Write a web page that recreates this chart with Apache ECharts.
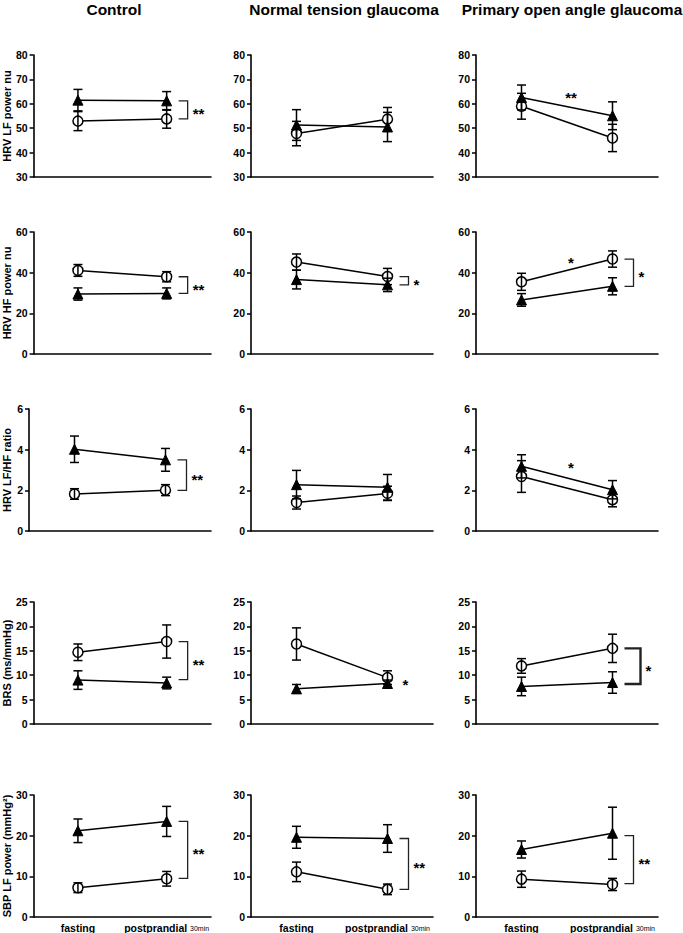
<!DOCTYPE html>
<html>
<head>
<meta charset="utf-8">
<title>HRV / BRS fasting vs postprandial</title>
<script src="https://cdn.jsdelivr.net/npm/echarts@6/dist/echarts.min.js"></script>
<style>
  html, body { margin: 0; padding: 0; background: #fff; }
  #chart { width: 683px; height: 933px; }
</style>
</head>
<body>
<div id="chart"></div>
<script>
// categories and panels
const categories = ['fasting', 'postprandial'];
const groupTitles = ['Control', 'Normal tension glaucoma', 'Primary open angle glaucoma'];
const measureNames = ['HRV LF power nu', 'HRV HF power nu', 'HRV LF/HF ratio', 'BRS (ms/mmHg)', 'SBP LF power (mmHg²)'];
const yMin = [30, 0, 0, 0, 0];
const yMax = [80, 60, 6, 25, 30];
const yStep = [10, 20, 2, 5, 10];

// values per group: [fasting, postprandial]; circle = open circle, triangle = filled triangle
const lfNuCircle = [[52.9, 53.8], [47.8, 53.7], [59.0, 46.0]];
const lfNuCircleErr = [[3.9, 3.8], [5.0, 4.8], [5.3, 5.6]];
const lfNuTriangle = [[61.5, 61.2], [51.3, 50.5], [62.6, 55.1]];
const lfNuTriangleErr = [[4.4, 3.8], [6.3, 6.0], [5.1, 5.7]];

const hfNuCircle = [[41.1, 38.0], [45.2, 38.1], [35.5, 46.7]];
const hfNuCircleErr = [[2.9, 2.5], [4.0, 4.0], [4.2, 4.0]];
const hfNuTriangle = [[29.5, 29.8], [36.6, 34.0], [26.6, 33.3]];
const hfNuTriangleErr = [[3.0, 2.7], [4.6, 3.3], [3.1, 4.2]];

const lfhfCircle = [[1.82, 2.01], [1.40, 1.85], [2.68, 1.54]];
const lfhfCircleErr = [[0.26, 0.27], [0.32, 0.35], [0.78, 0.35]];
const lfhfTriangle = [[4.02, 3.50], [2.28, 2.15], [3.18, 2.03]];
const lfhfTriangleErr = [[0.65, 0.56], [0.70, 0.63], [0.57, 0.45]];

const brsCircle = [[14.7, 16.9], [16.4, 9.5], [11.9, 15.5]];
const brsCircleErr = [[1.7, 3.4], [3.3, 1.4], [1.5, 2.9]];
const brsTriangle = [[9.0, 8.4], [7.2, 8.3], [7.7, 8.5]];
const brsTriangleErr = [[1.9, 1.2], [0.9, 0.7], [1.9, 2.2]];

const sbpCircle = [[7.2, 9.4], [11.1, 6.8], [9.3, 8.0]];
const sbpCircleErr = [[1.2, 1.8], [2.4, 1.3], [2.0, 1.5]];
const sbpTriangle = [[21.2, 23.5], [19.6, 19.3], [16.6, 20.6]];
const sbpTriangleErr = [[2.9, 3.7], [2.7, 3.4], [2.1, 6.4]];

// significance brackets at the postprandial point: [row, col]
const bracketPanels = [[0, 0], [1, 0], [1, 1], [1, 2], [2, 0], [3, 0], [3, 2], [4, 0], [4, 1], [4, 2]];
const bracketTop = [61.2, 38.0, 38.1, 46.7, 3.5, 16.9, 15.5, 23.5, 19.3, 20.0];
const bracketBottom = [53.8, 29.8, 34.0, 33.3, 2.0, 9.1, 8.2, 9.5, 6.8, 8.2];
const bracketMarks = ['**', '**', '*', '*', '**', '**', '*', '**', '**', '**'];

// stars placed between the two time points
const midStarPanels = [[0, 2], [1, 2], [2, 2]];
const midStarY = [64.4, 46.8, 3.3];
const midStarMarks = ['**', '*', '*'];

// star to the right of the postprandial points
const sideStarPanels = [[3, 1]];
const sideStarY = [9.0];
const sideStarMarks = ['*'];

const panels = [
  [lfNuCircle, lfNuCircleErr, lfNuTriangle, lfNuTriangleErr],
  [hfNuCircle, hfNuCircleErr, hfNuTriangle, hfNuTriangleErr],
  [lfhfCircle, lfhfCircleErr, lfhfTriangle, lfhfTriangleErr],
  [brsCircle, brsCircleErr, brsTriangle, brsTriangleErr],
  [sbpCircle, sbpCircleErr, sbpTriangle, sbpTriangleErr]
];

const FONT = '"Liberation Sans", Arial, Helvetica, sans-serif';
const colLeft = [29, 251, 476];
const rowTop = [55, 232, 409, 602, 795];
const titleX = [114, 344, 572];
const bracketLineWidth = [1.3, 1.3, 1.3, 1.3, 1.3, 1.3, 2.4, 1.3, 1.3, 1.3];

const chart = echarts.init(document.getElementById('chart'), null, { renderer: 'svg' });

const grids = [], xAxes = [], yAxes = [], series = [];

function errorBars(params, api) {
  const x = api.value(0), m = api.value(1), e = api.value(2);
  const top = api.coord([x, m + e]);
  const bot = api.coord([x, m - e]);
  const hw = 4.5;
  const st = { stroke: '#000', lineWidth: 1.5 };
  return {
    type: 'group',
    children: [
      { type: 'line', shape: { x1: top[0], y1: top[1], x2: bot[0], y2: bot[1] }, style: st },
      { type: 'line', shape: { x1: top[0] - hw, y1: top[1], x2: top[0] + hw, y2: top[1] }, style: st },
      { type: 'line', shape: { x1: bot[0] - hw, y1: bot[1], x2: bot[0] + hw, y2: bot[1] }, style: st }
    ]
  };
}

for (let r = 0; r < 5; r++) {
  for (let c = 0; c < 3; c++) {
    const idx = r * 3 + c;
    grids.push({ left: colLeft[c], top: rowTop[r], width: 182, height: 122 });
    xAxes.push({
      gridIndex: idx,
      type: 'category',
      data: categories,
      boundaryGap: true,
      axisLine: { lineStyle: { color: '#000', width: 1.6 } },
      axisTick: { alignWithLabel: true, interval: 0, length: 4, lineStyle: { color: '#000', width: 1.5 } },
      axisLabel: {
        show: r === 4,
        interval: 0,
        hideOverlap: false,
        margin: 5,
        color: '#000',
        fontFamily: FONT,
        fontWeight: 'bold',
        fontSize: 10.5,
        formatter: v => v === 'postprandial' ? '{main|postprandial} {sub|30min}' : v,
        rich: {
          main: { fontFamily: FONT, fontWeight: 'bold', fontSize: 10.5, color: '#000' },
          sub: { fontFamily: FONT, fontWeight: 'normal', fontSize: 7, color: '#000', padding: [2, 0, 0, 0] }
        }
      }
    });
    yAxes.push({
      gridIndex: idx,
      type: 'value',
      min: yMin[r],
      max: yMax[r],
      interval: yStep[r],
      name: c === 0 ? measureNames[r] : '',
      nameLocation: 'middle',
      nameRotate: 90,
      nameGap: 17,
      nameTextStyle: { color: '#000', fontFamily: FONT, fontWeight: 'bold', fontSize: 11 },
      axisLine: { show: true, lineStyle: { color: '#000', width: 1.6 } },
      axisTick: { show: true, length: 4, lineStyle: { color: '#000', width: 1.5 } },
      splitLine: { show: false },
      axisLabel: { margin: 6, color: '#000', fontFamily: FONT, fontWeight: 'bold', fontSize: 10.5 }
    });

    const [circ, circErr, tri, triErr] = panels[r];
    series.push({
      type: 'line', xAxisIndex: idx, yAxisIndex: idx,
      data: circ[c],
      symbol: 'circle', symbolSize: 10,
      itemStyle: { color: '#fff', borderColor: '#000', borderWidth: 1.5 },
      lineStyle: { color: '#000', width: 1.5 },
      z: 3, animation: false, silent: true
    });
    series.push({
      type: 'line', xAxisIndex: idx, yAxisIndex: idx,
      data: tri[c],
      symbol: 'triangle', symbolSize: 10,
      itemStyle: { color: '#000', borderColor: '#000' },
      lineStyle: { color: '#000', width: 1.5 },
      z: 3, animation: false, silent: true
    });
    series.push({
      type: 'custom', xAxisIndex: idx, yAxisIndex: idx,
      renderItem: errorBars,
      encode: { x: 0, y: 1 },
      data: [
        [0, circ[c][0], circErr[c][0]], [1, circ[c][1], circErr[c][1]],
        [0, tri[c][0], triErr[c][0]], [1, tri[c][1], triErr[c][1]]
      ],
      z: 4, animation: false, silent: true
    });
  }
}

const starFont = 'bold 15px ' + FONT;

bracketPanels.forEach(([r, c], i) => {
  const idx = r * 3 + c;
  const mark = bracketMarks[i];
  const lw = bracketLineWidth[i];
  series.push({
    type: 'custom', xAxisIndex: idx, yAxisIndex: idx,
    encode: { x: 0, y: 1 },
    data: [[1, bracketTop[i], bracketBottom[i]]],
    renderItem: (params, api) => {
      const p1 = api.coord([1, api.value(1)]);
      const p2 = api.coord([1, api.value(2)]);
      const x0 = p1[0] + 12, x1 = p1[0] + (lw > 2 ? 28 : 21);
      return {
        type: 'group',
        children: [
          { type: 'polyline', shape: { points: [[x0, p1[1]], [x1, p1[1]], [x1, p2[1]], [x0, p2[1]]] },
            style: { stroke: '#222', lineWidth: lw, fill: null } },
          { type: 'text', style: { text: mark, x: x1 + 5, y: (p1[1] + p2[1]) / 2 + 4, font: starFont, fill: '#000', align: 'left', verticalAlign: 'middle' } }
        ]
      };
    },
    z: 5, animation: false, silent: true
  });
});

midStarPanels.forEach(([r, c], i) => {
  const idx = r * 3 + c;
  const mark = midStarMarks[i];
  series.push({
    type: 'custom', xAxisIndex: idx, yAxisIndex: idx,
    encode: { x: 0, y: 1 },
    data: [[0, midStarY[i]]],
    renderItem: (params, api) => {
      const a = api.coord([0, api.value(1)]);
      const b = api.coord([1, api.value(1)]);
      return { type: 'text', style: { text: mark, x: (a[0] + b[0]) / 2 + 4, y: a[1] + 4, font: starFont, fill: '#000', align: 'center', verticalAlign: 'middle' } };
    },
    z: 5, animation: false, silent: true
  });
});

sideStarPanels.forEach(([r, c], i) => {
  const idx = r * 3 + c;
  const mark = sideStarMarks[i];
  series.push({
    type: 'custom', xAxisIndex: idx, yAxisIndex: idx,
    encode: { x: 0, y: 1 },
    data: [[1, sideStarY[i]]],
    renderItem: (params, api) => {
      const p = api.coord([1, api.value(1)]);
      return { type: 'text', style: { text: mark, x: p[0] + 18, y: p[1] + 4, font: starFont, fill: '#000', align: 'center', verticalAlign: 'middle' } };
    },
    z: 5, animation: false, silent: true
  });
});

chart.setOption({
  animation: false,
  backgroundColor: '#fff',
  grid: grids,
  xAxis: xAxes,
  yAxis: yAxes,
  series: series,
  graphic: groupTitles.map((t, i) => ({
    type: 'text',
    x: titleX[i],
    y: 9,
    style: { text: t, font: 'bold 15.5px ' + FONT, fill: '#000', align: 'center', verticalAlign: 'middle' }
  }))
});
</script>
</body>
</html>
